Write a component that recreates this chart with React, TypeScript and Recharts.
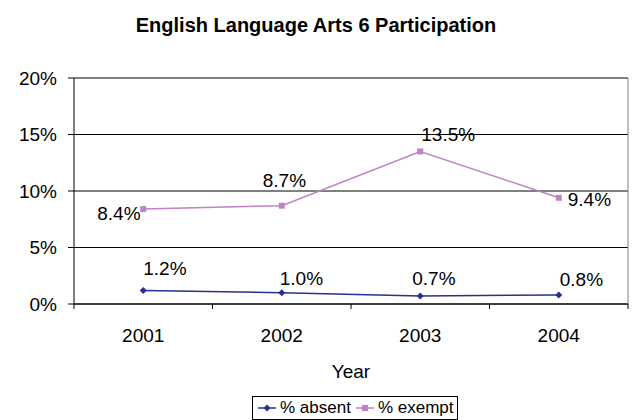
import {
  LineChart,
  Line,
  XAxis,
  YAxis,
  CartesianGrid,
  ReferenceLine,
  Legend,
  LabelList,
} from "recharts";

const YEARS = ["2001", "2002", "2003", "2004"];
const ABSENT = [1.2, 1.0, 0.7, 0.8];
const EXEMPT = [8.4, 8.7, 13.5, 9.4];
const Y_TICKS = [0, 5, 10, 15, 20];

// where each value label sits relative to its point (Excel moved them by hand)
const ABSENT_LABEL_POS = [
  { dx: 0, dy: -22 },
  { dx: -2, dy: -14 },
  { dx: -8, dy: -18 },
  { dx: 1, dy: -15 },
];
const EXEMPT_LABEL_POS = [
  { dx: -46, dy: 4 },
  { dx: -19, dy: -25 },
  { dx: 1, dy: -17 },
  { dx: 9, dy: 2 },
];

const ABSENT_COLOR = "#27318f";
const EXEMPT_COLOR = "#c081c6";
const FONT = "'Liberation Sans', Arial, sans-serif";

const data = YEARS.map((year, i) => ({
  year,
  absent: ABSENT[i],
  exempt: EXEMPT[i],
}));

const Diamond = (props: any) => {
  const { cx, cy, stroke } = props;
  if (cx == null || cy == null) return null;
  return (
    <path
      d={`M${cx},${cy - 3.5}L${cx + 3.5},${cy}L${cx},${cy + 3.5}L${cx - 3.5},${cy}Z`}
      fill={stroke}
    />
  );
};

const Square = (props: any) => {
  const { cx, cy, stroke } = props;
  if (cx == null || cy == null) return null;
  return <rect x={cx - 3} y={cy - 3} width={6} height={6} fill={stroke} />;
};

const makeLabel = (pos: { dx: number; dy: number }[]) => (props: any) => {
  const { x, y, value, index } = props;
  const p = pos[index] || { dx: 0, dy: -18 };
  return (
    <text
      x={x + p.dx}
      y={y + p.dy}
      dominantBaseline="central"
      textAnchor="start"
      fontSize={19}
      fontFamily={FONT}
      fill="#000"
    >
      {`${Number(value).toFixed(1)}%`}
    </text>
  );
};

const YearTick = (props: any) => {
  const { x, y, payload, index, visibleTicksCount, width } = props;
  const band = width && visibleTicksCount ? width / visibleTicksCount : 138.5;
  const left = x - band / 2;
  return (
    <g>
      <line x1={left} y1={y} x2={left} y2={y + 5} stroke="#000" />
      {index === visibleTicksCount - 1 && (
        <line x1={left + band} y1={y} x2={left + band} y2={y + 5} stroke="#000" />
      )}
      <text
        x={x}
        y={y + 38}
        textAnchor="middle"
        fontSize={19}
        fontFamily={FONT}
        fill="#000"
      >
        {payload.value}
      </text>
    </g>
  );
};

const LegendBox = () => {
  const item = (label: string, color: string, square: boolean) => (
    <span style={{ display: "inline-flex", alignItems: "center", marginRight: 4 }}>
      <svg width={20} height={10} style={{ marginRight: 3 }}>
        <line x1={1} y1={5} x2={19} y2={5} stroke={color} strokeWidth={1.5} />
        {square ? (
          <rect x={7} y={2} width={6} height={6} fill={color} />
        ) : (
          <path d="M10,1.5L13.5,5L10,8.5L6.5,5Z" fill={color} />
        )}
      </svg>
      {label}
    </span>
  );
  return (
    <div
      style={{
        display: "inline-flex",
        alignItems: "center",
        border: "1px solid #000",
        padding: "0 0 0 4px",
        height: 22,
        fontSize: 17,
        fontFamily: FONT,
        color: "#000",
        background: "#fff",
        whiteSpace: "nowrap",
      }}
    >
      {item("% absent", ABSENT_COLOR, false)}
      {item("% exempt", EXEMPT_COLOR, true)}
    </div>
  );
};

export default function App() {
  return (
    <div style={{ position: "absolute", left: 0, top: 0, width: 632, height: 420, background: "#fff" }}>
      <div
        style={{
          position: "absolute",
          top: 14,
          width: 632,
          textAlign: "center",
          fontFamily: FONT,
          fontWeight: "bold",
          fontSize: 20,
          color: "#000",
        }}
      >
        English Language Arts 6 Participation
      </div>
      <LineChart
        width={632}
        height={420}
        data={data}
        margin={{ top: 78, right: 4, left: 0, bottom: 0 }}
      >
        <CartesianGrid vertical={false} stroke="#000" />
        <XAxis
          dataKey="year"
          scale="band"
          height={92}
          stroke="#000"
          tickLine={false}
          tickSize={0}
          tickMargin={0}
          tick={<YearTick />}
          label={{
            value: "Year",
            position: "insideBottom",
            offset: 18,
            fontSize: 19,
            fontFamily: FONT,
            fill: "#000",
          }}
        />
        <YAxis
          width={74}
          domain={[0, 20]}
          ticks={Y_TICKS}
          stroke="#000"
          tickSize={6}
          tickMargin={11}
          tickFormatter={(v: number) => `${v}%`}
          tick={{ fontSize: 19, fontFamily: FONT, fill: "#000" }}
        />
        <ReferenceLine x="2004" position="end" stroke="#808080" />
        <ReferenceLine y={20} stroke="#808080" />
        <Legend
          verticalAlign="bottom"
          content={<LegendBox />}
          wrapperStyle={{ left: 252, width: "auto" }}
        />
        <Line
          dataKey="absent"
          name="% absent"
          stroke={ABSENT_COLOR}
          strokeWidth={1.5}
          dot={<Diamond />}
          activeDot={false}
          isAnimationActive={false}
        >
          <LabelList dataKey="absent" content={makeLabel(ABSENT_LABEL_POS)} />
        </Line>
        <Line
          dataKey="exempt"
          name="% exempt"
          stroke={EXEMPT_COLOR}
          strokeWidth={1.5}
          dot={<Square />}
          activeDot={false}
          isAnimationActive={false}
        >
          <LabelList dataKey="exempt" content={makeLabel(EXEMPT_LABEL_POS)} />
        </Line>
      </LineChart>
    </div>
  );
}
